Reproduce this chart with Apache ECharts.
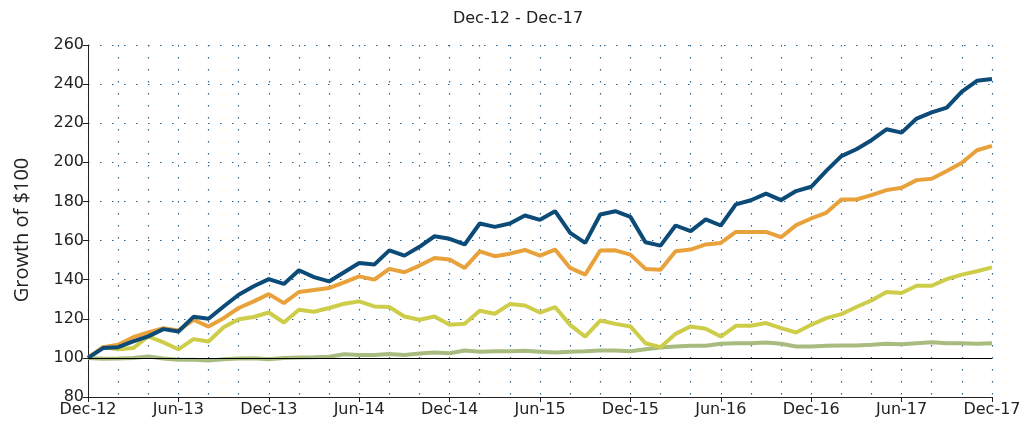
<!DOCTYPE html>
<html>
<head>
<meta charset="utf-8">
<script src="https://cdn.jsdelivr.net/npm/echarts@6/dist/echarts.min.js"></script>
<style>
  html, body { margin: 0; padding: 0; background: #fff; }
  #chart { width: 1036px; height: 424px; }
</style>
</head>
<body>
<div id="chart"></div>
<script>
// monthly growth of $100, Dec-12 .. Dec-17
const monthNames = ['Jan', 'Feb', 'Mar', 'Apr', 'May', 'Jun', 'Jul', 'Aug', 'Sep', 'Oct', 'Nov', 'Dec'];
const categories = ['Dec-12'];
for (let y = 13; y <= 17; y++) {
    monthNames.forEach(m => categories.push(m + '-' + y));
}

const seriesBlue = [100, 105, 105.5, 108.4, 111, 114.7, 113.5, 121, 120, 126.3, 132.3, 136.6, 140.3, 137.8, 144.8, 141.3,
    139.1, 143.8, 148.5, 147.7, 155, 152.3, 156.8, 162.2, 160.9, 158, 168.7, 167, 168.7, 172.8, 170.6,
    175, 163.9, 158.8, 173.3, 175, 172.1, 159.1, 157.4, 167.7, 164.8, 170.8, 167.7, 178.5, 180.6, 184,
    180.7, 185.3, 187.5, 195.6, 203.2, 206.7, 211.3, 216.9, 215.2, 222.4, 225.5, 228, 236.1, 241.7, 242.6];

const seriesOrange = [100, 105.5, 106.7, 110.6, 113, 115.2, 114, 119.5, 116, 120.3, 125.5, 128.9, 132.6, 128, 133.7, 134.7,
    135.7, 138.6, 141.7, 140, 145.5, 143.8, 147.2, 151.1, 150.3, 146, 154.5, 152, 153.3, 155.2, 152.3,
    155.4, 146, 142.6, 154.9, 155, 152.8, 145.5, 145.1, 154.5, 155.4, 158, 158.8, 164.4, 164.4, 164.4,
    161.7, 167.9, 171.3, 174.2, 181, 181, 183.2, 185.8, 187, 190.9, 191.6, 195.6, 199.8, 206.2, 208.4];

const seriesYellow = [100, 105.5, 104.4, 105, 111, 107.9, 104.4, 109.6, 108.4, 115.7, 119.8, 120.9, 123.2, 118.1, 124.6, 123.6,
    125.5, 127.7, 128.9, 126.3, 126, 121.2, 119.5, 121.2, 116.9, 117.4, 124.1, 122.6, 127.5, 126.8, 123.2,
    126, 116.9, 110.9, 119.1, 117.4, 116.1, 107.5, 105.5, 112.3, 116.1, 114.9, 110.9, 116.4, 116.4, 117.8,
    115.2, 113, 116.9, 120.3, 122.4, 126, 129.4, 133.7, 133.2, 136.9, 136.9, 140.3, 142.6, 144.3, 146.3];

const seriesGreen = [100, 99.5, 99.7, 100, 100.7, 99.7, 99, 99, 98.6, 99.3, 99.7, 99.8, 99.3, 100, 100.2, 100.3,
    100.6, 101.9, 101.5, 101.5, 102, 101.5, 102.2, 102.7, 102.4, 103.8, 103.2, 103.4, 103.4, 103.6, 103.2,
    102.7, 103.2, 103.4, 103.8, 103.8, 103.4, 104.4, 105.3, 105.8, 106.2, 106.2, 107.2, 107.5, 107.5, 107.9,
    107.2, 105.8, 105.8, 106.2, 106.3, 106.3, 106.7, 107.2, 107, 107.5, 108, 107.5, 107.5, 107.2, 107.5];

const gridDots = { color: '#2f6690', width: 1.2, type: [1.5, 10.5] };
const tickFont = { fontFamily: 'DejaVu Sans', fontSize: 16, color: '#222' };

function line(data, color) {
    return {
        type: 'line',
        data: data,
        symbol: 'none',
        lineStyle: { color: color, width: 4 },
        itemStyle: { color: color }
    };
}

const chart = echarts.init(document.getElementById('chart'));
chart.setOption({
    animation: false,
    title: {
        text: 'Dec-12 - Dec-17',
        left: 'center',
        top: 6,
        textStyle: { fontFamily: 'DejaVu Sans', fontSize: 16, fontWeight: 'normal', color: '#222' }
    },
    grid: { left: 88, right: 44, top: 45, bottom: 27 },
    xAxis: {
        type: 'category',
        data: categories,
        boundaryGap: false,
        axisLine: { lineStyle: { color: '#222', width: 1 } },
        axisTick: { interval: 5, length: 5, lineStyle: { color: '#222' } },
        axisLabel: Object.assign({ interval: 5, margin: 5 }, tickFont),
        splitLine: { show: true, interval: 1, lineStyle: gridDots }
    },
    yAxis: {
        type: 'value',
        min: 80,
        max: 260,
        interval: 20,
        name: 'Growth of $100',
        nameLocation: 'middle',
        nameGap: 56,
        nameTextStyle: { fontFamily: 'Open Sans', fontSize: 20, color: '#222', padding: [0, 18, 0, 0] },
        axisLine: { show: true, lineStyle: { color: '#222', width: 1 } },
        axisTick: { show: true, length: 5, lineStyle: { color: '#222' } },
        axisLabel: Object.assign({ margin: 4 }, tickFont),
        splitLine: { show: true, lineStyle: gridDots }
    },
    series: [
        {
            type: 'line',
            data: [],
            silent: true,
            markLine: {
                silent: true,
                symbol: 'none',
                label: { show: false },
                lineStyle: { color: '#000', width: 1, type: 'solid' },
                data: [{ yAxis: 100 }]
            }
        },
        line(seriesGreen, '#a9bc80'),
        line(seriesYellow, '#cecd4a'),
        line(seriesOrange, '#e9a23b'),
        line(seriesBlue, '#0c4a77')
    ]
});
</script>
</body>
</html>
